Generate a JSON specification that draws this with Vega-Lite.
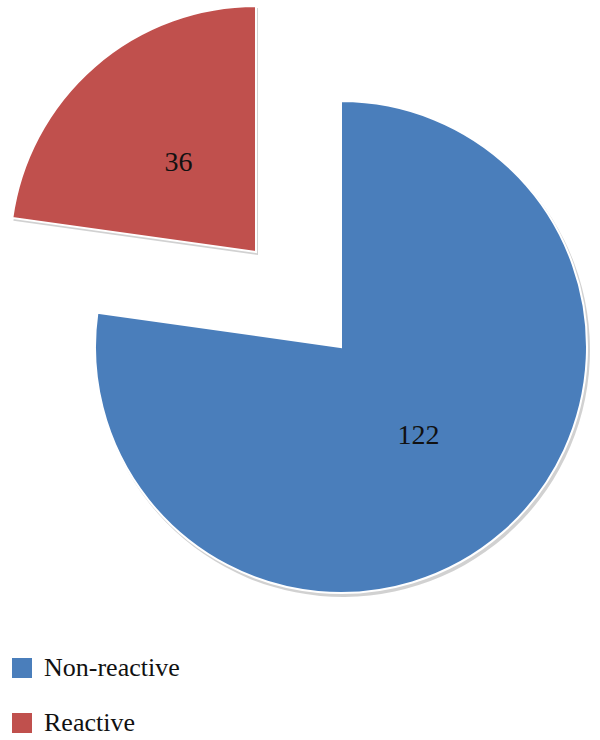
{
  "$schema": "https://vega.github.io/schema/vega-lite/v6.json",
  "autosize": "none",
  "width": 518,
  "height": 694,
  "padding": {"left": 82, "top": 0, "right": 0, "bottom": 46},
  "background": "white",
  "data": {"values": [
    {"category": "Non-reactive", "value": 122},
    {"category": "Reactive", "value": 36}
  ]},
  "layer": [
    {
      "mark": {"type": "arc", "outerRadius": 247, "color": "#000000", "opacity": 0.18,
        "xOffset": {"expr": "datum.category === 'Reactive' ? -83 : 2"},
        "yOffset": {"expr": "datum.category === 'Reactive' ? -92 : 3"}},
      "encoding": {
        "theta": {"field": "value", "type": "quantitative", "stack": true},
        "order": {"field": "category", "type": "nominal", "sort": "ascending"}
      }
    },
    {
      "mark": {"type": "arc", "outerRadius": 246, "stroke": "white", "strokeWidth": 2,
        "xOffset": {"expr": "datum.category === 'Reactive' ? -85 : 0"},
        "yOffset": {"expr": "datum.category === 'Reactive' ? -95 : 0"}},
      "encoding": {
        "theta": {"field": "value", "type": "quantitative", "stack": true},
        "order": {"field": "category", "type": "nominal", "sort": "ascending"},
        "color": {"field": "category", "type": "nominal",
          "scale": {"domain": ["Non-reactive", "Reactive"], "range": ["#4a7ebb", "#c0504d"]},
          "legend": {"title": null, "orient": "none", "legendX": -73, "legendY": 655,
            "symbolType": "square", "symbolSize": 400, "symbolStrokeWidth": 0,
            "labelFont": "Liberation Serif", "labelFontSize": 26, "labelColor": "#111111",
            "labelOffset": 9, "rowPadding": 29}}
      }
    },
    {
      "mark": {"type": "text", "radius": 118, "font": "Liberation Serif", "fontSize": 28, "color": "#111111",
        "xOffset": {"expr": "datum.category === 'Reactive' ? -85 : 0"},
        "yOffset": {"expr": "datum.category === 'Reactive' ? -95 : 0"}},
      "encoding": {
        "theta": {"field": "value", "type": "quantitative", "stack": true},
        "order": {"field": "category", "type": "nominal", "sort": "ascending"},
        "text": {"field": "value", "type": "quantitative"}
      }
    }
  ]
}
